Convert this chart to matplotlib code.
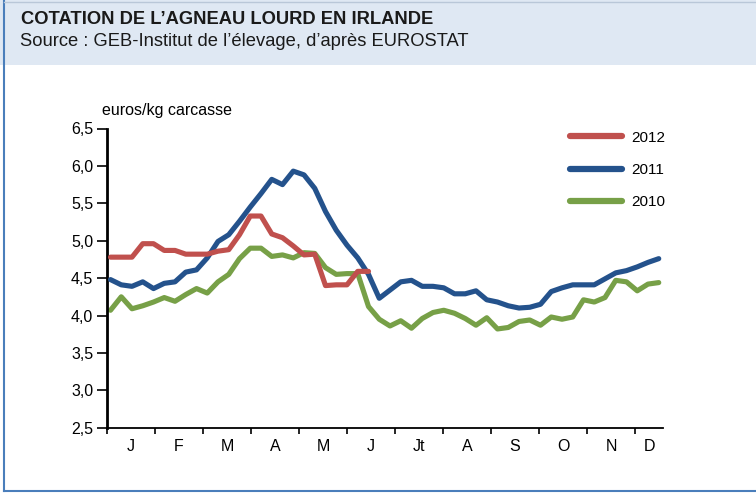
import numpy as np
import matplotlib
matplotlib.use("Agg")
import matplotlib.pyplot as plt
from matplotlib.ticker import FuncFormatter

plt.rcParams['font.family'] = ['Liberation Sans', 'DejaVu Sans']

# weekly quotations, euros/kg carcass
price_2012 = [4.78, 4.78, 4.78, 4.96, 4.96, 4.87, 4.87, 4.82, 4.82, 4.82,
              4.86, 4.88, 5.08, 5.33, 5.33, 5.09, 5.04, 4.93, 4.81, 4.82,
              4.40, 4.41, 4.41, 4.59, 4.59]
price_2011 = [4.48, 4.41, 4.39, 4.45, 4.36, 4.43, 4.45, 4.58, 4.61, 4.77,
              4.99, 5.08, 5.26, 5.45, 5.63, 5.82, 5.75, 5.93, 5.88, 5.70,
              5.39, 5.14, 4.94, 4.77, 4.55, 4.23, 4.34, 4.45, 4.47, 4.39,
              4.39, 4.37, 4.29, 4.29, 4.33, 4.21, 4.18, 4.13, 4.10, 4.11,
              4.15, 4.32, 4.37, 4.41, 4.41, 4.41, 4.49, 4.57, 4.60, 4.65,
              4.71, 4.76]
price_2010 = [4.07, 4.25, 4.09, 4.13, 4.18, 4.24, 4.19, 4.28, 4.36, 4.30,
              4.45, 4.55, 4.76, 4.90, 4.90, 4.79, 4.81, 4.77, 4.84, 4.83,
              4.64, 4.55, 4.56, 4.56, 4.12, 3.95, 3.86, 3.93, 3.83, 3.96,
              4.04, 4.07, 4.03, 3.96, 3.87, 3.97, 3.82, 3.84, 3.92, 3.94,
              3.87, 3.98, 3.95, 3.98, 4.21, 4.18, 4.24, 4.47, 4.45, 4.33,
              4.42, 4.44]
months = ["J", "F", "M", "A", "M", "J", "Jt", "A", "S", "O", "N", "D"]
yticks = [2.5, 3.0, 3.5, 4.0, 4.5, 5.0, 5.5, 6.0, 6.5]

W, H = 756, 493
fig = plt.figure(figsize=(W / 100, H / 100), dpi=100)

# header band and frame
fig.patches.append(plt.Rectangle((0, 1 - 65 / H), 1, 65 / H, transform=fig.transFigure,
                                 facecolor="#dfe8f3", edgecolor="none", zorder=0))
frame = "#4a7ebb"
fig.add_artist(plt.Line2D([4 / W, 4 / W], [2 / H, 1], color=frame, lw=1.5, transform=fig.transFigure))
fig.add_artist(plt.Line2D([4 / W, 1], [2 / H, 2 / H], color=frame, lw=1.5, transform=fig.transFigure))
fig.add_artist(plt.Line2D([4 / W, 1], [1 - 1.5 / H, 1 - 1.5 / H], color="#b9c7d8", lw=1, transform=fig.transFigure))

fig.text(21 / W, 1 - 20 / H, "COTATION DE L\u2019AGNEAU LOURD EN IRLANDE", fontsize=13.2,
         fontweight="bold", va="center", ha="left", color="#1a1a1a")
fig.text(20 / W, 1 - 42 / H, "Source : GEB-Institut de l\u2019élevage, d\u2019après EUROSTAT",
         fontsize=13.2, va="center", ha="left", color="#1a1a1a")

# axes: 107..663 px horizontally, 128.5..427.7 px vertically
ax = fig.add_axes([107 / W, (H - 427.7) / H, 556 / W, 299.2 / H])
px_week = 10.75
x0 = 110.5
weeks = np.arange(52)

colors = {"2012": "#c0504d", "2011": "#24528c", "2010": "#77a047"}
lw = 3.7
ax.plot(weeks[:len(price_2012)], price_2012, color=colors["2012"], lw=lw, label="2012",
        solid_joinstyle="round", solid_capstyle="round", zorder=4)
ax.plot(weeks, price_2011, color=colors["2011"], lw=lw, label="2011",
        solid_joinstyle="round", solid_capstyle="round", zorder=3)
ax.plot(weeks, price_2010, color=colors["2010"], lw=lw, label="2010",
        solid_joinstyle="round", solid_capstyle="round", zorder=2)

xmin = (107 - x0) / px_week
xmax = (663 - x0) / px_week
ax.set_xlim(xmin, xmax)
ax.set_ylim(2.5, 6.5)

bounds = xmin + np.arange(12) * 48 / px_week
ax.set_xticks(bounds)
ax.set_xticklabels([])
centers = [(b + min(b + 48 / px_week, xmax)) / 2 for b in bounds]
ax.set_xticks(centers, minor=True)
ax.set_xticklabels(months, minor=True, fontsize=11.5)
ax.tick_params(axis="x", which="major", direction="out", length=4, width=1.2, color="black")
ax.tick_params(axis="x", which="minor", length=0, pad=8)

ax.set_yticks(yticks)
ax.yaxis.set_major_formatter(FuncFormatter(lambda v, p: f"{v:.1f}".replace(".", ",")))
ax.tick_params(axis="y", direction="out", length=7, width=1.2, labelsize=11.5, pad=3)

for s in ("top", "right"):
    ax.spines[s].set_visible(False)
ax.spines["left"].set_linewidth(2.0)
ax.spines["bottom"].set_linewidth(1.3)

fig.text(102 / W, 1 - 110 / H, "euros/kg carcasse", fontsize=11.5, va="center", ha="left")

leg = ax.legend(loc="upper left", bbox_to_anchor=(556 / W, 1 - 117 / H), bbox_transform=fig.transFigure,
                frameon=False, fontsize=11, handlelength=3.4, handletextpad=0.6, labelspacing=1.2)
for line in leg.get_lines():
    line.set_linewidth(4.5)

fig.savefig("out.png", dpi=100)
